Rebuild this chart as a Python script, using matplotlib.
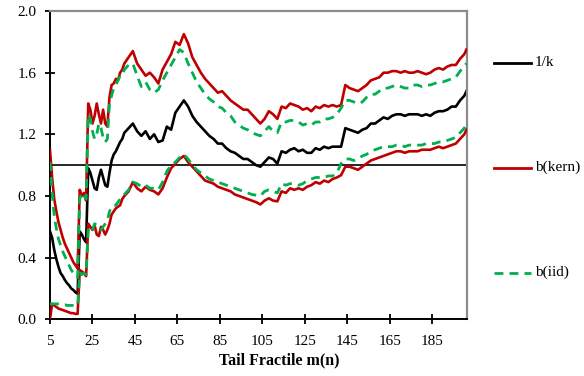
import matplotlib
matplotlib.use("Agg")
import matplotlib.pyplot as plt
from matplotlib.lines import Line2D

# tail fractile m(n): every point up to 40, every second point after that
m = list(range(5, 41)) + list(range(42, 201, 2)) + [201]

inv_k = [0.57, 0.53, 0.45, 0.39, 0.34, 0.30, 0.28, 0.255, 0.235, 0.22,
         0.20, 0.19, 0.175, 0.165, 0.57, 0.55, 0.52, 0.50, 0.98, 0.95,
         0.90, 0.85, 0.84, 0.92, 0.97, 0.92, 0.87, 0.86, 0.95, 1.03,
         1.07, 1.09, 1.12, 1.15, 1.17, 1.21,
         1.24, 1.27, 1.22, 1.19, 1.22, 1.17, 1.20, 1.15, 1.16, 1.25,
         1.23, 1.34, 1.38, 1.42, 1.38, 1.32, 1.28, 1.25, 1.22, 1.19,
         1.17, 1.14, 1.14, 1.11, 1.09, 1.08, 1.06, 1.04, 1.04, 1.02,
         1.00, 0.99, 1.02, 1.05, 1.04, 1.01, 1.09, 1.08, 1.10, 1.11,
         1.09, 1.10, 1.08, 1.08, 1.11, 1.10, 1.12, 1.11, 1.12, 1.12,
         1.12, 1.24, 1.23, 1.22, 1.21, 1.23, 1.24, 1.27, 1.27, 1.29,
         1.31, 1.30, 1.32, 1.33, 1.33, 1.32, 1.33, 1.33, 1.33, 1.32,
         1.33, 1.32, 1.34, 1.35, 1.35, 1.36, 1.38, 1.38, 1.42, 1.45,
         1.48]

kern_hi = [1.10, 0.92, 0.78, 0.70, 0.63, 0.58, 0.53, 0.49, 0.46, 0.43,
           0.40, 0.37, 0.35, 0.33, 0.84, 0.80, 0.82, 0.77, 1.40, 1.36,
           1.27, 1.32, 1.40, 1.33, 1.27, 1.36, 1.27, 1.25, 1.44, 1.52,
           1.53, 1.56, 1.55, 1.60, 1.62, 1.66,
           1.70, 1.74, 1.66, 1.62, 1.58, 1.60, 1.57, 1.53, 1.62, 1.67,
           1.72, 1.80, 1.78, 1.85, 1.79, 1.70, 1.65, 1.60, 1.56, 1.53,
           1.50, 1.47, 1.48, 1.45, 1.42, 1.40, 1.38, 1.36, 1.36, 1.33,
           1.30, 1.27, 1.30, 1.35, 1.33, 1.30, 1.38, 1.37, 1.40, 1.39,
           1.38, 1.36, 1.37, 1.35, 1.38, 1.37, 1.39, 1.38, 1.39, 1.38,
           1.39, 1.52, 1.50, 1.49, 1.48, 1.50, 1.52, 1.55, 1.56, 1.57,
           1.60, 1.60, 1.61, 1.61, 1.60, 1.61, 1.60, 1.60, 1.61, 1.60,
           1.59, 1.60, 1.62, 1.63, 1.62, 1.64, 1.65, 1.65, 1.69, 1.72,
           1.75]

kern_lo = [0.00, 0.10, 0.09, 0.08, 0.07, 0.065, 0.06, 0.055, 0.05, 0.045,
           0.04, 0.04, 0.035, 0.035, 0.32, 0.31, 0.30, 0.28, 0.62, 0.60,
           0.58, 0.61, 0.55, 0.54, 0.60, 0.58, 0.55, 0.58, 0.62, 0.68,
           0.70, 0.72, 0.73, 0.74, 0.78, 0.80,
           0.83, 0.89, 0.85, 0.83, 0.86, 0.84, 0.83, 0.81, 0.85, 0.92,
           0.98, 1.01, 1.04, 1.06, 1.02, 0.99, 0.96, 0.93, 0.90, 0.89,
           0.88, 0.86, 0.85, 0.84, 0.83, 0.81, 0.80, 0.79, 0.78, 0.77,
           0.76, 0.745, 0.77, 0.785, 0.77, 0.765, 0.83, 0.82, 0.85, 0.84,
           0.85, 0.84, 0.86, 0.87, 0.89, 0.88, 0.90, 0.89, 0.91, 0.92,
           0.935, 0.99, 0.99, 0.98, 0.97, 0.99, 1.01, 1.03, 1.04, 1.05,
           1.06, 1.07, 1.08, 1.09, 1.09, 1.08, 1.09, 1.09, 1.09, 1.10,
           1.10, 1.10, 1.11, 1.12, 1.11, 1.12, 1.13, 1.14, 1.17, 1.20,
           1.23]

iid_hi = [1.02, 0.82, 0.67, 0.59, 0.52, 0.48, 0.44, 0.41, 0.38, 0.35,
          0.32, 0.30, 0.28, 0.27, 0.78, 0.82, 0.80, 0.78, 1.33, 1.30,
          1.22, 1.17, 1.20, 1.27, 1.24, 1.18, 1.15, 1.17, 1.40, 1.45,
          1.50, 1.52, 1.55, 1.58, 1.58, 1.62,
          1.65, 1.66, 1.58, 1.51, 1.54, 1.49, 1.47, 1.49, 1.55, 1.60,
          1.65, 1.70, 1.75, 1.73, 1.66, 1.60, 1.54, 1.50, 1.46, 1.43,
          1.41, 1.38, 1.37, 1.34, 1.32, 1.28, 1.26, 1.24, 1.23, 1.21,
          1.20, 1.19, 1.22, 1.25, 1.22, 1.21, 1.28, 1.28, 1.29, 1.29,
          1.28, 1.26, 1.27, 1.26, 1.28, 1.28, 1.30, 1.30, 1.31, 1.33,
          1.37, 1.42, 1.42, 1.41, 1.40, 1.41, 1.44, 1.46, 1.46, 1.48,
          1.50, 1.50, 1.51, 1.52, 1.51, 1.50, 1.50, 1.52, 1.52, 1.51,
          1.52, 1.52, 1.53, 1.54, 1.54, 1.55, 1.56, 1.57, 1.61, 1.64,
          1.66]

iid_lo = [0.10, 0.10, 0.10, 0.10, 0.10, 0.10, 0.095, 0.095, 0.09, 0.09,
          0.09, 0.09, 0.09, 0.09, 0.30, 0.29, 0.30, 0.29, 0.58, 0.56,
          0.58, 0.62, 0.61, 0.59, 0.58, 0.60, 0.62, 0.64, 0.70, 0.73,
          0.74, 0.74, 0.76, 0.78, 0.79, 0.81,
          0.84, 0.89, 0.88, 0.86, 0.87, 0.85, 0.85, 0.84, 0.89, 0.96,
          1.00, 1.02, 1.05, 1.07, 1.04, 1.00, 0.97, 0.95, 0.93, 0.91,
          0.90, 0.89, 0.88, 0.87, 0.86, 0.85, 0.84, 0.83, 0.82, 0.81,
          0.805, 0.80, 0.83, 0.84, 0.83, 0.82, 0.88, 0.87, 0.88, 0.88,
          0.87, 0.88, 0.90, 0.91, 0.92, 0.92, 0.92, 0.93, 0.93, 0.95,
          1.01, 1.04, 1.04, 1.03, 1.04, 1.06, 1.07, 1.09, 1.10, 1.11,
          1.12, 1.12, 1.12, 1.13, 1.13, 1.12, 1.13, 1.13, 1.13, 1.13,
          1.14, 1.14, 1.14, 1.15, 1.15, 1.16, 1.17, 1.18, 1.21, 1.24,
          1.27]

x_ticks = [5, 25, 45, 65, 85, 105, 125, 145, 165, 185]
y_ticks = [0.0, 0.4, 0.8, 1.2, 1.6, 2.0]

RED = "#C00000"
GREEN = "#00B050"
DASH = (0, (3.2, 2.2))

plt.rcParams["font.family"] = ["Liberation Serif", "DejaVu Serif"]
plt.rcParams["font.size"] = 11

fig = plt.figure(figsize=(5.84, 3.76), dpi=100)
ax = fig.add_axes([0.0856, 0.1508, 0.7149, 0.8199])

ax.axhline(1.0, color="black", lw=1.2, zorder=1)
ax.plot(m, inv_k, color="black", lw=1.9, zorder=2)
ax.plot(m, kern_hi, color=RED, lw=1.9, zorder=3)
ax.plot(m, kern_lo, color=RED, lw=1.9, zorder=3)
ax.plot(m, iid_hi, color=GREEN, lw=2.0, linestyle=DASH, zorder=4)
ax.plot(m, iid_lo, color=GREEN, lw=2.0, linestyle=DASH, zorder=4)

ax.set_xlim(5, 201.5)
ax.set_ylim(0, 2.0)
ax.set_xticks(x_ticks)
ax.set_yticks(y_ticks)
ax.set_yticklabels([f"{v:.1f}" for v in y_ticks])
ax.tick_params(direction="inout", length=7, width=1.3, color="black")
ax.tick_params(axis="y", pad=6)
ax.tick_params(axis="x", pad=8)

for side in ["left", "bottom"]:
    ax.spines[side].set_color("black")
    ax.spines[side].set_linewidth(1.4)
for side in ["top", "right"]:
    ax.spines[side].set_color("#8c8c8c")
    ax.spines[side].set_linewidth(1.6)

ax.set_xlabel("Tail Fractile m(n)", fontweight="bold", fontsize=11.5,
              labelpad=3, x=0.548)

# legend entries to the right of the plot
entries = [("1/k", "black", "-", 62.7),
           ("b(kern)", RED, "-", 167.7),
           ("b(iid)", GREEN, DASH, 272.7)]
for label, color, style, py in entries:
    yf = 1 - py / 376
    fig.add_artist(Line2D([494 / 584, 531 / 584], [yf, yf], color=color,
                          lw=2.0, linestyle=style, transform=fig.transFigure))
    fig.text(535 / 584, yf, label, va="center", ha="left")

fig.savefig("out.png", dpi=100)
